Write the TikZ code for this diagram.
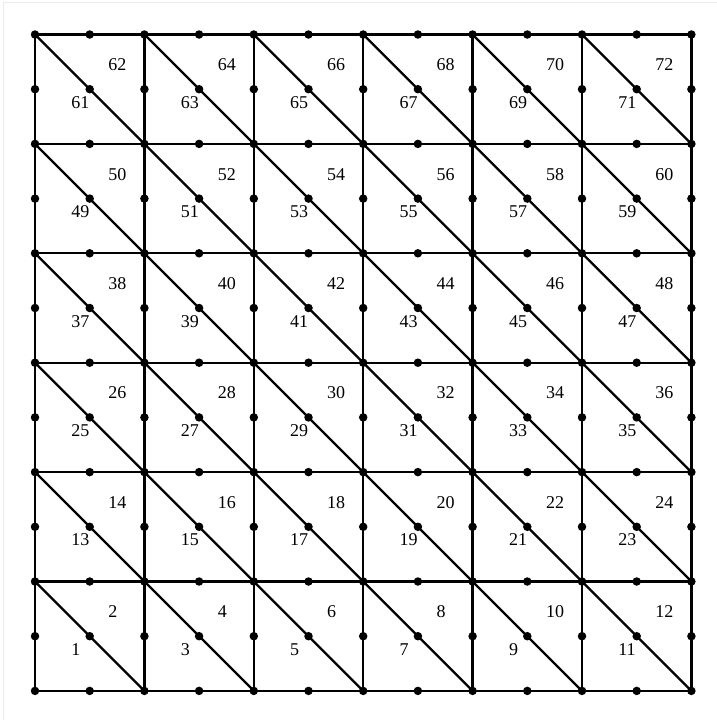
\documentclass[tikz,border=0pt]{standalone}
\usepackage{fontspec}
\setmainfont{Liberation Serif}
\usetikzlibrary{calc}
\begin{document}
\begin{tikzpicture}[x=1pt,y=-1pt,
  gridline/.style={line width=2.3pt,black},
  dotmark/.style={circle,fill=black,inner sep=0pt,minimum size=8.5pt},
  lbl/.style={inner sep=0pt,anchor=base west,font=\fontsize{18}{20}\selectfont},
  frame/.style={line width=0.8pt,black!8}]
\useasboundingbox (0,0) rectangle (717,720);
\fill[white] (0,0) rectangle (717,720);
\draw[frame] (3,720) -- (3,2) -- (717,2);
\def\xo{35}\def\yo{34.5}\def\cs{109.4}
% grid coordinates
\foreach \i in {0,...,6}{
  \foreach \j in {0,...,6}{
    \coordinate (v-\i-\j) at ({\xo+\i*\cs},{\yo+\j*\cs});
  }
}
% lines
\foreach \k in {0,...,6}{
  \draw[gridline] (v-0-\k) -- (v-6-\k);
  \draw[gridline] (v-\k-0) -- (v-\k-6);
}
\foreach \i in {0,...,5}{
  \foreach \j in {0,...,5}{
    \pgfmathtruncatemacro{\ii}{\i+1}
    \pgfmathtruncatemacro{\jj}{\j+1}
    \draw[gridline] (v-\i-\j) -- (v-\ii-\jj);
  }
}
% dots: vertices
\foreach \i in {0,...,6}{
  \foreach \j in {0,...,6}{
    \node[dotmark] (d-\i-\j) at (v-\i-\j) {};
  }
}
% dots: midpoints and centres, labels
\foreach \i in {0,...,5}{
  \foreach \j in {0,...,5}{
    \pgfmathtruncatemacro{\ii}{\i+1}
    \pgfmathtruncatemacro{\jj}{\j+1}
    \node[dotmark] (h-\i-\j) at ($(v-\i-\j)!0.5!(v-\ii-\j)$) {};
    \node[dotmark] (w-\i-\j) at ($(v-\i-\j)!0.5!(v-\i-\jj)$) {};
    \node[dotmark] (c-\i-\j) at ($(v-\i-\j)!0.5!(v-\ii-\jj)$) {};
    \pgfmathtruncatemacro{\odd}{(5-\j)*12+2*\i+1}
    \pgfmathtruncatemacro{\even}{\odd+1}
    \node[lbl] (lo-\i-\j) at ($(c-\i-\j)+(-18.5,19)$) {\odd};
    \node[lbl] (le-\i-\j) at ($(c-\i-\j)+(18.5,-18.5)$) {\even};
  }
}
\foreach \k in {0,...,5}{
  \pgfmathtruncatemacro{\kk}{\k+1}
  \node[dotmark] (hb-\k) at ($(v-\k-6)!0.5!(v-\kk-6)$) {};
  \node[dotmark] (wr-\k) at ($(v-6-\k)!0.5!(v-6-\kk)$) {};
}
\end{tikzpicture}
\end{document}
